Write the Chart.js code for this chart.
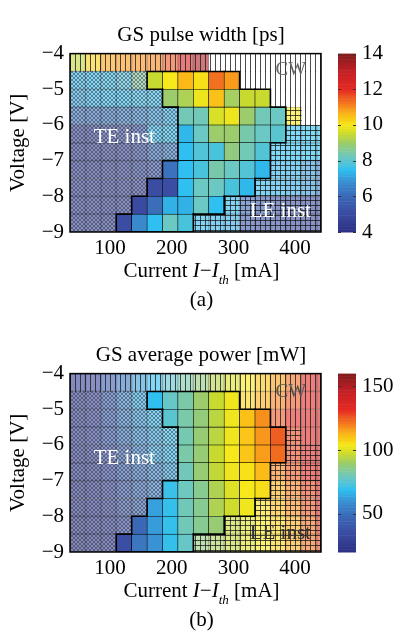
<!DOCTYPE html>
<html>
<head>
<meta charset="utf-8">
<script src="https://cdn.jsdelivr.net/npm/chart.js@4.4.1/dist/chart.umd.min.js"></script>
<style>
  body { margin: 0; background: #fff; }
  canvas { display: block; }
</style>
</head>
<body>
<canvas id="pulse" width="396" height="320"></canvas>
<canvas id="power" width="396" height="320"></canvas>
<script>
// column centres [mA] and row centres [V] of the measurement grid
const currents = [47.5, 72.5, 97.5, 122.5, 147.5, 172.5, 197.5, 222.5, 247.5, 272.5, 297.5, 322.5, 347.5, 372.5, 397.5, 422.5, 447.5];
const voltages = [-4.25, -4.75, -5.25, -5.75, -6.25, -6.75, -7.25, -7.75, -8.25, -8.75];
const currentTicks = [100, 200, 300, 400];
const voltageTicks = [-4, -5, -6, -7, -8, -9];

// operating regime of each cell: C = clean mode locking, T = TE inst, L = LE inst, W = CW
const regimes = [
  "WWWWWWWWWWWWWWWWW",
  "TTTTTCCCCCCWWWWWW",
  "TTTTTTCCCCCCCWWWW",
  "TTTTTTTCCCCCCCLWW",
  "TTTTTTTCCCCCCCLLL",
  "TTTTTTTCCCCCCLLLL",
  "TTTTTTCCCCCCCLLLL",
  "TTTTTCCCCCCCLLLLL",
  "TTTTCCCCCCLLLLLLL",
  "TTTCCCCCLLLLLLLLL",
];

const n = null;
// GS pulse width [ps]
const pulseWidth = [
  [9.4, 10.3, 10.8, 10.9, 11.0, 11.1, 11.6, 12.5, 13.3, n, n, n, n, n, n, n, n],
  [7.4, 7.5, 7.6, 7.8, 8.6, 9.5, 10.0, 10.6, 10.1, 11.3, 10.9, n, n, n, n, n, n],
  [7.2, 7.4, 7.5, 7.5, 7.6, 7.6, 9.0, 9.2, 9.9, 10.5, 9.1, 9.5, 9.5, n, n, n, n],
  [6.3, 6.3, 6.4, 6.5, 6.7, 7.0, 7.3, 8.3, 8.3, 9.7, 9.9, 9.0, 8.3, 8.2, 10.0, n, n],
  [4.8, 4.8, 5.0, 5.2, 5.5, 7.5, 7.5, 7.4, 8.2, 9.0, 9.0, 8.4, 8.2, 8.0, 7.5, 7.5, 7.5],
  [4.8, 4.8, 4.9, 5.0, 5.2, 6.2, 6.5, 7.5, 7.9, 7.8, 8.8, 8.3, 7.9, 7.5, 7.5, 7.5, 7.5],
  [4.8, 4.8, 4.9, 5.0, 5.1, 5.5, 6.2, 7.5, 7.8, 8.4, 8.2, 7.9, 7.4, 7.3, 7.3, 7.0, 6.6],
  [4.8, 4.8, 4.8, 4.9, 5.0, 5.1, 5.1, 7.5, 8.2, 8.2, 7.8, 7.4, 7.4, 7.3, 7.2, 7.0, 6.5],
  [4.8, 4.8, 4.8, 4.9, 5.0, 6.1, 7.3, 7.3, 8.2, 7.5, 7.4, 6.0, 5.5, 5.2, 5.2, 5.0, 5.0],
  [4.8, 4.8, 4.8, 5.1, 6.7, 7.5, 8.2, 7.8, 7.4, 7.3, 7.2, 5.5, 5.2, 5.2, 5.0, 5.0, 5.0],
];
// GS average power [mW]
const avgPower = [
  [28, 32, 42, 52, 62, 68, 76, 82, 88, 94, 100, 104, 110, 116, 122, 132, 138],
  [30, 33, 45, 58, 66, 69, 78, 82, 90, 97, 103, 108, 114, 120, 126, 132, 136],
  [30, 33, 45, 55, 62, 68, 76, 82, 88, 95, 103, 111, 118, 126, 132, 136, 140],
  [30, 33, 42, 52, 60, 64, 70, 81, 89, 95, 103, 110, 117, 125, 128, 135, 140],
  [28, 30, 36, 46, 56, 64, 68, 82, 89, 97, 104, 110, 116, 123, 128, 134, 138],
  [28, 30, 36, 45, 52, 58, 64, 80, 89, 96, 103, 105, 112, 120, 126, 132, 138],
  [26, 28, 34, 42, 50, 56, 71, 79, 85, 93, 100, 104, 106, 114, 120, 128, 134],
  [26, 28, 32, 40, 46, 63, 70, 80, 85, 93, 98, 103, 106, 112, 118, 126, 132],
  [25, 27, 30, 36, 48, 62, 70, 80, 85, 89, 96, 100, 104, 108, 114, 122, 130],
  [25, 26, 28, 36, 52, 60, 70, 78, 88, 92, 96, 100, 104, 108, 114, 122, 128],
];
const pulseTicks = [4, 6, 8, 10, 12, 14];
const powerTicks = [50, 100, 150];

const FONT = "'Liberation Serif', 'Times New Roman', serif";
Chart.defaults.font.family = FONT;
Chart.defaults.font.size = 21;
Chart.defaults.color = '#000';

const cmapStops = [
  [0.00, '#2a2f80'], [0.10, '#3a4aa0'], [0.20, '#3b68b6'], [0.28, '#3a8ed0'],
  [0.35, '#2fbff0'], [0.42, '#6cc8c2'], [0.50, '#9ccc6c'], [0.55, '#c8da30'],
  [0.60, '#f6e81a'], [0.66, '#fbb918'], [0.72, '#f47b20'], [0.80, '#e52a22'],
  [0.90, '#c41f26'], [1.00, '#7f1d1d'],
];
const hexRgb = h => [1, 3, 5].map(i => parseInt(h.substr(i, 2), 16));
function cmap(t, a = 1) {
  t = Math.min(1, Math.max(0, t));
  for (let i = 1; i < cmapStops.length; i++) {
    if (t <= cmapStops[i][0]) {
      const [t0, h0] = cmapStops[i - 1], [t1, h1] = cmapStops[i];
      const c0 = hexRgb(h0), c1 = hexRgb(h1), f = (t - t0) / (t1 - t0);
      const c = c0.map((v, k) => Math.round(v + (c1[k] - v) * f));
      return `rgba(${c[0]},${c[1]},${c[2]},${a})`;
    }
  }
}

function makePattern(kind) {
  const c = document.createElement('canvas');
  const g = c.getContext('2d');
  if (kind === 'T') {
    c.width = c.height = 4;
    g.fillStyle = 'rgba(45,45,60,0.5)';
    for (let i = 0; i < 4; i++) { g.fillRect(i, i, 1, 1); g.fillRect(3 - i, i, 1, 1); }
  } else if (kind === 'L') {
    c.width = c.height = 5;
    g.fillStyle = 'rgba(20,20,20,0.75)';
    g.fillRect(0, 0, 1, 5); g.fillRect(0, 0, 5, 1);
  } else {
    c.width = c.height = 5;
    g.fillStyle = 'rgba(30,30,30,0.8)';
    g.fillRect(0, 0, 1, 5);
  }
  return g.createPattern(c, 'repeat');
}

function drawXTitle(ctx, cx, base, caption) {
  const parts = [
    ['Current ', `21px ${FONT}`, 0], ['I', `italic 21px ${FONT}`, 0], ['\u2212', `21px ${FONT}`, 0],
    ['I', `italic 21px ${FONT}`, 0], ['th', `italic 13px ${FONT}`, 7], [' [mA]', `21px ${FONT}`, 0],
  ];
  let w = 0;
  parts.forEach(p => { ctx.font = p[1]; w += ctx.measureText(p[0]).width; });
  let x = cx - w / 2;
  ctx.textAlign = 'left';
  ctx.textBaseline = 'alphabetic';
  ctx.fillStyle = '#000';
  parts.forEach(p => { ctx.font = p[1]; ctx.fillText(p[0], x, base + p[2]); x += ctx.measureText(p[0]).width; });
  ctx.font = `21px ${FONT}`;
  ctx.textAlign = 'center';
  ctx.fillText(caption, cx, base + 29);
}

function panel(id, title, caption, values, cbMin, cbMax, cbTicks, notes) {
  const dv = Math.abs(voltages[1] - voltages[0]) / 2;
  const cells = [], hatch = { T: [], L: [], W: [] };
  voltages.forEach((v, r) => currents.forEach((x, c) => {
    const reg = regimes[r][c];
    const box = { x, y: [v - dv, v + dv], r, c, reg };
    if (reg !== 'C') hatch[reg].push(box);
    if (values[r][c] !== null) cells.push({ ...box, val: values[r][c] });
  }));
  const frac = v => (v - cbMin) / (cbMax - cbMin);
  const isClean = (r, c) => r >= 0 && r < regimes.length && c >= 0 && c < currents.length && regimes[r][c] === 'C';

  const overlay = (k, i) => ({ data: hatch[k], backgroundColor: makePattern(k), borderWidth: 0, order: 2 + i, yAxisID: 'y' });

  const decor = {
    id: 'decor',
    afterDatasetsDraw(chart) {
      const { ctx, chartArea: a, scales } = chart;
      const meta = chart.getDatasetMeta(0);
      ctx.save();
      ctx.beginPath(); ctx.rect(a.left, a.top, a.width, a.height); ctx.clip();
      ctx.strokeStyle = '#000'; ctx.lineWidth = 1.6; ctx.lineCap = 'square';
      meta.data.forEach((el, i) => {
        const d = cells[i];
        if (d.reg !== 'C') return;
        const l = el.x - el.width / 2, rr = el.x + el.width / 2;
        const t = Math.min(el.y, el.base), b = Math.max(el.y, el.base);
        ctx.beginPath();
        if (!isClean(d.r - 1, d.c)) { ctx.moveTo(l, t); ctx.lineTo(rr, t); }
        if (!isClean(d.r + 1, d.c)) { ctx.moveTo(l, b); ctx.lineTo(rr, b); }
        if (!isClean(d.r, d.c - 1)) { ctx.moveTo(l, t); ctx.lineTo(l, b); }
        if (!isClean(d.r, d.c + 1)) { ctx.moveTo(rr, t); ctx.lineTo(rr, b); }
        ctx.stroke();
      });
      notes.forEach(nt => {
        ctx.font = `${nt.size}px ${FONT}`;
        ctx.fillStyle = nt.color;
        ctx.textAlign = 'center'; ctx.textBaseline = 'middle';
        ctx.fillText(nt.text, scales.x.getPixelForValue(nt.x), scales.y.getPixelForValue(nt.y));
      });
      ctx.restore();
      ctx.save();
      ctx.strokeStyle = '#000'; ctx.lineWidth = 1.5;
      ctx.strokeRect(a.left, a.top, a.width, a.height);
      ctx.restore();
    },
    afterDraw(chart) {
      const { ctx, chartArea: a, scales } = chart;
      const cb = scales.cb;
      const x0 = cb.left + 17, x1 = cb.left + 35;
      const steps = 64;
      for (let i = 0; i < steps; i++) {
        const v0 = cbMin + (cbMax - cbMin) * i / steps, v1 = cbMin + (cbMax - cbMin) * (i + 1) / steps;
        const y0 = cb.getPixelForValue(v0), y1 = cb.getPixelForValue(v1);
        ctx.fillStyle = cmap((i + 0.5) / steps);
        ctx.fillRect(x0, y1, x1 - x0, y0 - y1 + 0.5);
      }
      ctx.strokeStyle = '#333'; ctx.lineWidth = 1;
      cbTicks.forEach(v => {
        const y = Math.round(cb.getPixelForValue(v)) + 0.5;
        ctx.beginPath();
        ctx.moveTo(x0, y); ctx.lineTo(x0 + 3, y);
        ctx.moveTo(x1, y); ctx.lineTo(x1 - 3, y);
        ctx.stroke();
      });
      drawXTitle(ctx, (a.left + a.right) / 2 + 6, a.bottom + 45, caption);
    },
  };

  const noGrid = { display: false, drawTicks: false };
  new Chart(document.getElementById(id), {
    type: 'bar',
    data: {
      datasets: [
        {
          data: cells, order: 5, yAxisID: 'y',
          backgroundColor: c => cmap(frac(c.raw.val), c.raw.reg === 'C' ? 1 : 0.6),
          borderColor: c => (c.raw.reg === 'C' ? '#000' : 'rgba(70,70,70,0.4)'),
          borderWidth: c => (c.raw.reg === 'C' ? 0.6 : 0.5),
        },
        overlay('T', 0), overlay('L', 1), overlay('W', 2),
      ],
    },
    options: {
      responsive: false,
      animation: false,
      events: [],
      devicePixelRatio: 1,
      layout: { padding: { left: 6 } },
      datasets: { bar: { grouped: false, categoryPercentage: 1, barPercentage: 1, borderSkipped: false } },
      plugins: {
        legend: { display: false },
        tooltip: { enabled: false },
        title: { display: true, text: title, font: { size: 21, weight: 'normal' }, color: '#000', padding: { top: 1, bottom: 6 } },
      },
      scales: {
        x: {
          type: 'linear', min: 35, max: 442, offset: false,
          grid: noGrid, border: { display: false },
          afterBuildTicks: s => { s.ticks = currentTicks.map(value => ({ value })); },
          ticks: { padding: 4, maxRotation: 0, autoSkip: false, color: '#000' },
          afterFit: s => { s.height = 88; },
        },
        y: {
          type: 'linear', min: -9, max: -4,
          grid: noGrid, border: { display: false },
          afterBuildTicks: s => { s.ticks = voltageTicks.map(value => ({ value })); },
          ticks: { padding: 6, color: '#000', callback: v => (v < 0 ? '\u2212' : '') + Math.abs(v) },
          title: { display: true, text: 'Voltage [V]', font: { size: 21 }, color: '#000', padding: 0 },
          afterFit: s => { s.width = 64; },
        },
        cb: {
          type: 'linear', position: 'right', min: cbMin, max: cbMax,
          grid: noGrid, border: { display: false },
          afterBuildTicks: s => { s.ticks = cbTicks.map(value => ({ value })); },
          ticks: { padding: 41, color: '#000' },
          afterFit: s => { s.width = 75; },
        },
      },
    },
    plugins: [decor],
  });
}

panel('pulse', 'GS pulse width [ps]', '(a)', pulseWidth, 4, 14, pulseTicks, [
  { text: 'CW', x: 393, y: -4.45, color: '#666', size: 19 },
  { text: 'TE inst', x: 123, y: -6.34, color: '#fff', size: 21 },
  { text: 'LE inst', x: 376, y: -8.43, color: '#fff', size: 21 },
]);
panel('power', 'GS average power [mW]', '(b)', avgPower, 20, 160, powerTicks, [
  { text: 'CW', x: 393, y: -4.53, color: '#555', size: 19 },
  { text: 'TE inst', x: 123, y: -6.39, color: '#fff', size: 21 },
  { text: 'LE inst', x: 376, y: -8.49, color: '#333', size: 21 },
]);
</script>
</body>
</html>
